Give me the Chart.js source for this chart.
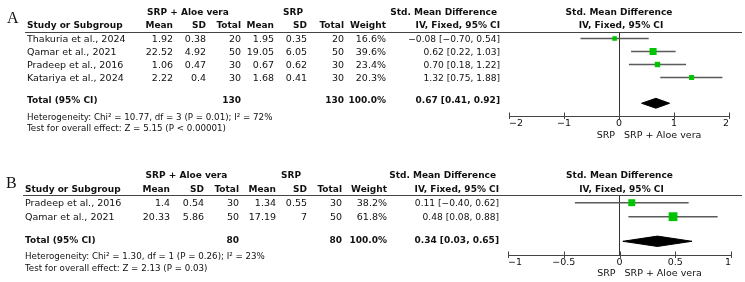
<!DOCTYPE html>
<html><head><meta charset="utf-8">
<script src="https://cdn.jsdelivr.net/npm/chart.js@4.4.1/dist/chart.umd.min.js"></script>
<style>
html,body{margin:0;padding:0;background:#fff;}
#wrap{position:relative;width:745px;height:282px;overflow:hidden;background:#fff;}
.pan{position:absolute;left:0;width:745px;height:141px;}
canvas{display:block;}
</style></head><body>
<div id="wrap">
<div class="pan" style="top:0"><canvas id="cA" width="745" height="141"></canvas></div>
<div class="pan" style="top:141px"><canvas id="cB" width="745" height="141"></canvas></div>
</div>
<script>
// ---------- shared labels ----------
const groupLabels = ["SRP + Aloe vera", "SRP"];
const colHeaders = ["Study or Subgroup", "Mean", "SD", "Total", "Mean", "SD", "Total", "Weight"];
const smdHeader = ["Std. Mean Difference", "IV, Fixed, 95% CI"];
const axisLabels = ["SRP", "SRP + Aloe vera"];
const totalLabel = "Total (95% CI)";

// ---------- Panel A data ----------
const studiesA = ["Thakuria et al., 2024", "Qamar et al., 2021", "Pradeep et al., 2016", "Katariya et al., 2024"];
const aloeMeanA = [1.92, 22.52, 1.06, 2.22];
const aloeSdA = [0.38, 4.92, 0.47, 0.4];
const aloeNA = [20, 50, 30, 30];
const srpMeanA = [1.95, 19.05, 0.67, 1.68];
const srpSdA = [0.35, 6.05, 0.62, 0.41];
const srpNA = [20, 50, 30, 30];
const weightA = [16.6, 39.6, 23.4, 20.3];
const smdA = [-0.08, 0.62, 0.70, 1.32];
const lowA = [-0.70, 0.22, 0.18, 0.75];
const highA = [0.54, 1.03, 1.22, 1.88];
const totalNA = [130, 130];
const totalWeightA = 100.0;
const pooledA = [0.67, 0.41, 0.92];
const hetTextA = "Heterogeneity: Chi² = 10.77, df = 3 (P = 0.01); I² = 72%";
const testTextA = "Test for overall effect: Z = 5.15 (P < 0.00001)";
const ticksA = [-2, -1, 0, 1, 2];

// ---------- Panel B data ----------
const studiesB = ["Pradeep et al., 2016", "Qamar et al., 2021"];
const aloeMeanB = [1.4, 20.33];
const aloeSdB = [0.54, 5.86];
const aloeNB = [30, 50];
const srpMeanB = [1.34, 17.19];
const srpSdB = [0.55, 7];
const srpNB = [30, 50];
const weightB = [38.2, 61.8];
const smdB = [0.11, 0.48];
const lowB = [-0.40, 0.08];
const highB = [0.62, 0.88];
const totalNB = [80, 80];
const totalWeightB = 100.0;
const pooledB = [0.34, 0.03, 0.65];
const hetTextB = "Heterogeneity: Chi² = 1.30, df = 1 (P = 0.26); I² = 23%";
const testTextB = "Test for overall effect: Z = 2.13 (P = 0.03)";
const ticksB = [-1, -0.5, 0, 0.5, 1];

// ---------- helpers ----------
const FONT = "'DejaVu Sans', Verdana, sans-serif";
const REG = "9.5px " + FONT;
const CIF = "9.1px " + FONT;
const FOOT = "8.7px " + FONT;
const BOLD = "bold 9px " + FONT;
const INK = '#111';
function num(v) { return String(v).replace('-', '\u2212'); }
function f2(v) { return (v < 0 ? '\u2212' : '') + Math.abs(v).toFixed(2); }
function ci(e, l, h) { return f2(e) + ' [' + f2(l) + ', ' + f2(h) + ']'; }

Chart.defaults.font.family = FONT;
Chart.defaults.color = INK;

function makePanel(id, d, L) {
  const ciSets = d.studies.map((s, i) => ({
    type: 'scatter',
    data: [{x: d.low[i], y: i}, {x: d.high[i], y: i}],
    showLine: true, borderColor: '#5a5a5a', borderWidth: 1.6,
    pointRadius: 0, order: 2
  }));
  const pts = {
    type: 'scatter',
    data: d.studies.map((s, i) => ({x: d.smd[i], y: i})),
    pointStyle: 'rect',
    pointRadius: ctx => Math.sqrt(d.weight[ctx.dataIndex]) * 1.12 / Math.SQRT2,
    backgroundColor: '#00c400', borderWidth: 0, showLine: false, order: 0
  };
  const r = L.diamondRow, h = L.diaH;
  const dia = {
    type: 'scatter',
    data: [{x: d.pooled[1], y: r}, {x: d.pooled[0], y: r - h}, {x: d.pooled[2], y: r},
           {x: d.pooled[0], y: r + h}, {x: d.pooled[1], y: r}],
    showLine: true, fill: 'shape', borderColor: '#000', backgroundColor: '#000',
    borderWidth: 1, pointRadius: 0, tension: 0, order: 1
  };

  const tablePlugin = {
    id: 'table' + id,
    afterDraw(chart) {
      const c = chart.ctx, ys = chart.scales.y, xs = chart.scales.x, ca = chart.chartArea;
      const Y = v => ys.getPixelForValue(v);
      c.save();
      c.fillStyle = INK;
      c.textBaseline = 'middle';
      // panel letter
      c.font = "16px 'Liberation Serif', 'Times New Roman', serif";
      c.textAlign = 'left';
      c.fillText(L.letter, L.letterX, L.letterY);
      // header line
      c.strokeStyle = '#444'; c.lineWidth = 1;
      c.beginPath(); c.moveTo(L.studyX - 2, Math.round(ca.top) + 0.5); c.lineTo(742, Math.round(ca.top) + 0.5); c.stroke();
      // group header
      c.font = BOLD; c.textAlign = 'center';
      c.fillText(groupLabels[0], L.grp[0], Y(L.hdr[0]));
      c.fillText(groupLabels[1], L.grp[1], Y(L.hdr[0]));
      c.textAlign = 'right';
      c.fillText(smdHeader[0], L.cols[7] - 3, Y(L.hdr[0]));
      c.fillText(smdHeader[1], L.cols[7], Y(L.hdr[1]));
      c.textAlign = 'center';
      const cx = (ca.left + ca.right) / 2;
      c.fillText(smdHeader[0], cx, Y(L.hdr[0]));
      c.fillText(smdHeader[1], cx + 2, Y(L.hdr[1]));
      c.textAlign = 'left';
      c.fillText(colHeaders[0], L.studyX, Y(L.hdr[1]));
      c.textAlign = 'right';
      for (let k = 1; k < 8; k++) c.fillText(colHeaders[k], L.cols[k - 1], Y(L.hdr[1]));
      // study rows
      d.studies.forEach((s, i) => {
        const y = Y(i) + 0.7;
        c.font = REG;
        c.textAlign = 'left';
        c.fillText(s, L.studyX, y);
        c.textAlign = 'right';
        const vals = [num(d.aloeMean[i]), num(d.aloeSd[i]), String(d.aloeN[i]),
                      num(d.srpMean[i]), num(d.srpSd[i]), String(d.srpN[i]),
                      d.weight[i].toFixed(1) + '%'];
        vals.forEach((v, k) => c.fillText(v, L.cols[k], y));
        c.font = CIF;
        c.fillText(ci(d.smd[i], d.low[i], d.high[i]), L.cols[7], y);
      });
      // total row
      c.font = BOLD;
      const yt = Y(L.totalRow);
      c.textAlign = 'left';
      c.fillText(totalLabel, L.studyX, yt);
      c.textAlign = 'right';
      c.fillText(String(d.totalN[0]), L.cols[2], yt);
      c.fillText(String(d.totalN[1]), L.cols[5], yt);
      c.fillText(d.totalW.toFixed(1) + '%', L.cols[6], yt);
      c.fillText(ci(d.pooled[0], d.pooled[1], d.pooled[2]), L.cols[7], yt);
      // footer
      c.font = FOOT; c.textAlign = 'left';
      c.fillText(d.het, L.studyX, Y(L.hetRow));
      c.fillText(d.test, L.studyX, Y(L.testRow));
      // axis labels
      c.font = REG;
      const x0 = xs.getPixelForValue(0);
      const ya = ca.bottom + L.axLblDy;
      c.textAlign = 'right'; c.fillText(axisLabels[0], x0 - 4, ya);
      c.textAlign = 'left'; c.fillText(axisLabels[1], x0 + 5, ya);
      // tick marks crossing the axis
      c.strokeStyle = '#444'; c.lineWidth = 1;
      xs.ticks.forEach(t => {
        const px = Math.round(xs.getPixelForValue(t.value)) + 0.5;
        c.beginPath(); c.moveTo(px, ca.bottom - 3.5); c.lineTo(px, ca.bottom + 3); c.stroke();
      });
      c.restore();
    }
  };

  return new Chart(document.getElementById(id), {
    type: 'scatter',
    data: {datasets: [pts, dia, ...ciSets]},
    options: {
      responsive: false, animation: false, events: [],
      layout: {padding: {left: L.left, right: L.right, top: L.top, bottom: 0}},
      plugins: {legend: {display: false}, tooltip: {enabled: false}},
      scales: {
        x: {
          type: 'linear', min: d.ticks[0], max: d.ticks[d.ticks.length - 1],
          afterBuildTicks: s => { s.ticks = d.ticks.map(v => ({value: v})); },
          afterFit: s => { s.height = L.axisH; },
          grid: {drawTicks: false, lineWidth: 1,
                 color: ctx => (ctx.tick && ctx.tick.value === 0) ? '#333' : 'rgba(0,0,0,0)'},
          border: {display: true, color: '#444', width: 1},
          ticks: {font: {size: 9.5, family: FONT}, color: INK, padding: 2, align: 'inner',
                  maxRotation: 0, autoSkip: false,
                  callback: v => num(v)}
        },
        y: {type: 'linear', reverse: true, min: L.yMin, max: L.yMax, display: false}
      }
    },
    plugins: [tablePlugin]
  });
}

const dataA = {studies: studiesA, aloeMean: aloeMeanA, aloeSd: aloeSdA, aloeN: aloeNA,
  srpMean: srpMeanA, srpSd: srpSdA, srpN: srpNA, weight: weightA, smd: smdA, low: lowA, high: highA,
  totalN: totalNA, totalW: totalWeightA, pooled: pooledA, het: hetTextA, test: testTextA, ticks: ticksA};
const dataB = {studies: studiesB, aloeMean: aloeMeanB, aloeSd: aloeSdB, aloeN: aloeNB,
  srpMean: srpMeanB, srpSd: srpSdB, srpN: srpNB, weight: weightB, smd: smdB, low: lowB, high: highB,
  totalN: totalNB, totalW: totalWeightB, pooled: pooledB, het: hetTextB, test: testTextB, ticks: ticksB};

makePanel('cA', dataA, {
  left: 509, right: 16, top: 32, axisH: 25, yMin: -0.5, yMax: 5.96,
  cols: [173, 206, 241, 274, 307, 344, 386, 500], studyX: 27, grp: [188, 293],
  hdr: [-2.02, -1.02], totalRow: 4.78, diamondRow: 4.98, diaH: 0.38, hetRow: 6.08, testRow: 6.92,
  letter: 'A', letterX: 7, letterY: 19, axLblDy: 20
});
makePanel('cB', dataB, {
  left: 508, right: 14, top: 54, axisH: 27, yMin: -0.55, yMax: 3.74,
  cols: [170, 204, 239, 276, 307, 342, 387, 499], studyX: 25, grp: [186.5, 291],
  hdr: [-1.93, -0.96], totalRow: 2.74, diamondRow: 2.76, diaH: 0.37, hetRow: 3.86, testRow: 4.74,
  letter: 'B', letterX: 6, letterY: 43, axLblDy: 19
});
</script>
</body></html>
